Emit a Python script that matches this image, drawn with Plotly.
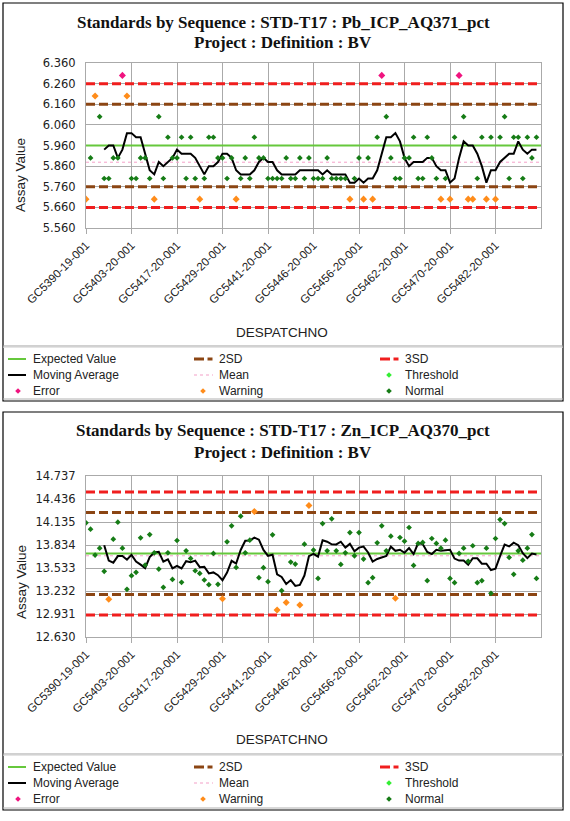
import plotly.graph_objects as go

W, H = 570, 821

# ---------------- data ----------------
tick_pos = [0, 10, 20, 30, 40, 50, 60, 70, 80, 90]
tick_labels = ["GC5390-19-001", "GC5403-20-001", "GC5417-20-001", "GC5429-20-001",
               "GC5441-20-001", "GC5446-20-001", "GC5456-20-001", "GC5462-20-001",
               "GC5470-20-001", "GC5482-20-001"]
x_end = 100

# Pb_ICP_AQ371_pct
pb_values = [5.7, 5.9, 6.2, 6.1, 5.8, 5.8, 5.9, 5.9, 6.3, 6.2,
             5.8, 5.8, 5.9, 5.9, 5.8, 5.7, 6.1, 5.8, 6.0, 5.9,
             5.9, 6.0, 5.8, 6.0, 5.8, 5.7, 5.8, 6.0, 6.0, 5.9,
             5.9, 5.8, 5.9, 5.7, 5.8, 5.9, 5.8, 6.0, 5.9, 5.9,
             5.8, 5.8, 5.8, 5.8, 5.9, 5.8, 5.8, 5.9, 5.8, 5.9,
             5.8, 5.8, 5.8, 5.9, 5.8, 5.8, 5.8, 5.8, 5.7, 5.8,
             5.9, 5.7, 5.9, 5.7, 6.0, 6.3, 6.1, 5.9, 5.8, 5.8,
             5.9, 5.9, 6.0, 5.8, 5.8, 6.0, 5.9, 5.8, 5.7, 5.8,
             5.7, 6.0, 6.3, 6.1, 5.7, 5.7, 5.8, 6.0, 5.7, 6.0,
             5.7, 6.0, 6.1, 5.8, 6.0, 6.0, 5.8, 6.0, 5.9, 6.0]
pb_ma_start = 4
pb_ma = [5.94, 5.96, 5.96, 5.90, 5.94, 6.02, 6.02, 6.00, 6.00, 5.92,
         5.84, 5.82, 5.88, 5.86, 5.88, 5.90, 5.94, 5.92, 5.92, 5.92,
         5.90, 5.86, 5.82, 5.86, 5.86, 5.88, 5.92, 5.92, 5.90, 5.84,
         5.82, 5.82, 5.82, 5.84, 5.88, 5.90, 5.88, 5.88, 5.84, 5.82,
         5.82, 5.82, 5.82, 5.84, 5.84, 5.84, 5.84, 5.84, 5.82, 5.84,
         5.82, 5.82, 5.82, 5.82, 5.78, 5.78, 5.80, 5.78, 5.80, 5.80,
         5.84, 5.92, 6.00, 6.00, 6.02, 5.98, 5.90, 5.86, 5.88, 5.88,
         5.88, 5.90, 5.90, 5.86, 5.84, 5.84, 5.78, 5.80, 5.90, 5.98,
         5.96, 5.96, 5.92, 5.86, 5.78, 5.84, 5.84, 5.88, 5.90, 5.92,
         5.92, 5.98, 5.94, 5.92, 5.94, 5.94]
pb_expected = 5.96
pb_mean = 5.879
pb_2sd = [5.76, 6.16]
pb_3sd = [5.66, 6.26]
pb_range = [5.56, 6.36]
pb_yticks = [5.56, 5.66, 5.76, 5.86, 5.96, 6.06, 6.16, 6.26, 6.36]

# Zn_ICP_AQ370_pct
zn_values = [14.124, 14.041, 13.702, 13.793, 13.489, 13.123, 13.910, 14.132, 13.793, 13.254,
             13.432, 13.476, 13.928, 13.571, 13.971, 13.732, 13.519, 13.280, 13.732, 13.384,
             13.893, 13.345, 13.758, 13.658, 13.497, 13.462, 13.376, 13.315, 13.723, 13.319,
             13.132, 13.876, 14.085, 13.541, 14.211, 13.732, 13.897, 14.272, 13.406, 13.537,
             13.354, 13.967, 12.984, 13.236, 13.080, 13.610, 13.584, 13.050, 13.845, 14.350,
             13.767, 13.397, 14.115, 13.758, 14.176, 13.758, 13.580, 13.732, 13.997, 13.693,
             13.997, 13.650, 13.341, 13.406, 13.863, 14.085, 13.758, 13.950, 13.136, 13.932,
             13.884, 14.063, 13.567, 13.854, 13.867, 13.367, 13.919, 13.854, 13.793, 13.897,
             13.397, 13.341, 13.723, 13.793, 13.620, 13.824, 13.341, 13.367, 13.793, 13.201,
             13.919, 14.167, 14.115, 13.671, 13.450, 13.758, 13.636, 13.793, 13.971, 13.397]
zn_ma_start = 4
zn_ma = [13.830, 13.630, 13.603, 13.689, 13.689, 13.642, 13.704, 13.617, 13.577, 13.532,
         13.676, 13.736, 13.744, 13.615, 13.647, 13.529, 13.562, 13.527, 13.622, 13.608,
         13.630, 13.544, 13.550, 13.462, 13.475, 13.439, 13.373, 13.473, 13.627, 13.591,
         13.769, 13.889, 13.893, 13.931, 13.904, 13.769, 13.693, 13.707, 13.450, 13.416,
         13.324, 13.375, 13.299, 13.312, 13.434, 13.688, 13.719, 13.682, 13.895, 13.877,
         13.843, 13.841, 13.877, 13.801, 13.849, 13.752, 13.800, 13.814, 13.736, 13.617,
         13.651, 13.669, 13.691, 13.812, 13.758, 13.772, 13.732, 13.793, 13.716, 13.860,
         13.847, 13.744, 13.715, 13.772, 13.760, 13.766, 13.772, 13.656, 13.630, 13.630,
         13.575, 13.660, 13.660, 13.589, 13.589, 13.505, 13.524, 13.689, 13.839, 13.815,
         13.864, 13.832, 13.726, 13.662, 13.722, 13.711]
zn_expected = 13.723
zn_mean = 13.693
zn_2sd = [13.187, 14.259]
zn_3sd = [12.919, 14.527]
zn_range = [12.630, 14.737]
zn_yticks = [12.630, 12.931, 13.232, 13.533, 13.834, 14.135, 14.436, 14.737]

titles = [("Standards by Sequence : STD-T17 : Pb_ICP_AQ371_pct", "Project : Definition : BV"),
          ("Standards by Sequence : STD-T17 : Zn_ICP_AQ370_pct", "Project : Definition : BV")]

# ---------------- styles ----------------
C_EXP = "#66C83C"
C_2SD = "#8B4513"
C_3SD = "#F01E1E"
C_MA = "#000000"
C_MEAN = "#F4A0C8"
C_ERR = "#F0147F"
C_WARN = "#FF8C1A"
C_THR = "#33EE33"
C_NORM = "#167C16"
GRID = "#AAAAAA"
SANS = "Liberation Sans"
SERIF = "Liberation Serif"


def px(x):
    return x / W


def py(y):
    return 1 - y / H


fig = go.Figure()


def add_panel(xa, ya, values, ma, ma_start, expected, mean, sd2, sd3):
    xr = [0, x_end]
    for lvl in sd3:
        fig.add_trace(go.Scatter(x=xr, y=[lvl, lvl], mode="lines", xaxis=xa, yaxis=ya,
                                 line=dict(color=C_3SD, width=3, dash="9px,4px"), hoverinfo="skip"))
    for lvl in sd2:
        fig.add_trace(go.Scatter(x=xr, y=[lvl, lvl], mode="lines", xaxis=xa, yaxis=ya,
                                 line=dict(color=C_2SD, width=3, dash="9px,4px"), hoverinfo="skip"))
    fig.add_trace(go.Scatter(x=xr, y=[expected, expected], mode="lines", xaxis=xa, yaxis=ya,
                             line=dict(color=C_EXP, width=2)))
    fig.add_trace(go.Scatter(x=xr, y=[mean, mean], mode="lines", xaxis=xa, yaxis=ya,
                             line=dict(color=C_MEAN, width=1, dash="3px,3px")))
    fig.add_trace(go.Scatter(x=list(range(ma_start, ma_start + len(ma))), y=ma, mode="lines",
                             xaxis=xa, yaxis=ya, line=dict(color=C_MA, width=2)))
    groups = {"N": ([], []), "W": ([], []), "E": ([], [])}
    for i, v in enumerate(values):
        if v > sd3[1] or v < sd3[0]:
            k = "E"
        elif v > sd2[1] or v < sd2[0]:
            k = "W"
        else:
            k = "N"
        groups[k][0].append(i)
        groups[k][1].append(v)
    for k, col, size in [("N", C_NORM, 4.4), ("W", C_WARN, 5.4), ("E", C_ERR, 5.4)]:
        fig.add_trace(go.Scatter(x=groups[k][0], y=groups[k][1], mode="markers", xaxis=xa, yaxis=ya,
                                 marker=dict(symbol="diamond", color=col, size=size,
                                             line=dict(width=0))))


add_panel("x", "y", pb_values, pb_ma, pb_ma_start, pb_expected, pb_mean, pb_2sd, pb_3sd)
add_panel("x2", "y2", zn_values, zn_ma, zn_ma_start, zn_expected, zn_mean, zn_2sd, zn_3sd)

xdom = [px(86), px(541)]


def xaxis_cfg(anchor):
    return dict(domain=xdom, range=[0, x_end], anchor=anchor, tickmode="array",
                tickvals=tick_pos, ticktext=tick_labels, tickangle=-45, automargin=False,
                showgrid=True, gridcolor=GRID, gridwidth=1, zeroline=False,
                showline=True, linecolor=GRID, linewidth=1, mirror=True,
                ticks="outside", ticklen=5, tickcolor=GRID,
                tickfont=dict(family=SANS, size=11.5, color="#222222"))


def yaxis_cfg(anchor, dom, rng, ticks):
    return dict(domain=dom, range=rng, anchor=anchor, tickmode="array", automargin=False,
                tickvals=ticks, ticktext=["%.3f" % t for t in ticks],
                showgrid=True, gridcolor=GRID, gridwidth=1, zeroline=False,
                showline=True, linecolor=GRID, linewidth=1, mirror=True,
                ticks="", ticklabelstandoff=7,
                tickfont=dict(family="DejaVu Sans", size=11.5, color="#222222"))


shapes = []
annotations = []


def line(x0, y0, x1, y1, color, width, dash=None):
    d = dict(type="line", xref="paper", yref="paper", x0=px(x0), y0=py(y0), x1=px(x1), y1=py(y1),
             line=dict(color=color, width=width))
    if dash:
        d["line"]["dash"] = dash
    shapes.append(d)


def diamond(cx, cy, r, color):
    path = "M %f %f L %f %f L %f %f L %f %f Z" % (px(cx - r), py(cy), px(cx), py(cy - r),
                                                  px(cx + r), py(cy), px(cx), py(cy + r))
    shapes.append(dict(type="path", xref="paper", yref="paper", path=path,
                       fillcolor=color, line=dict(color=color, width=0)))


def text(x, y, s, size=12, family=SANS, anchor="left", angle=0, color="#222222"):
    annotations.append(dict(x=px(x), y=py(y), xref="paper", yref="paper", text=s,
                            showarrow=False, xanchor=anchor, yanchor="middle", textangle=angle,
                            font=dict(family=family, size=size, color=color)))


def panel_frame(top, bottom, sep, rows, title_y, xtitle_y, ytitle_y, title):
    shapes.append(dict(type="rect", xref="paper", yref="paper", x0=px(3), y0=py(top),
                       x1=px(563), y1=py(bottom), line=dict(color="#000000", width=1.2)))
    line(3, bottom - 2, 563, bottom - 2, "#B0B0B0", 1)
    line(3, sep, 563, sep, "#A0A0A0", 1)
    line(3, sep + 1.2, 563, sep + 1.2, "#D8D8D8", 1)
    text(283, title_y[0], "<b>%s</b>" % title[0], size=17, family=SERIF, anchor="center", color="#111111")
    text(283, title_y[1], "<b>%s</b>" % title[1], size=17, family=SERIF, anchor="center", color="#111111")
    text(282, xtitle_y, "DESPATCHNO", size=13.5, anchor="center")
    text(21, ytitle_y, "Assay Value", size=13.5, anchor="center", angle=-90)
    r1, r2, r3 = rows
    # column 1
    line(8, r1, 26, r1, C_EXP, 2)
    text(31, r1, "Expected Value")
    line(8, r2, 26, r2, C_MA, 2)
    text(31, r2, "Moving Average")
    diamond(18, r3, 2.8, C_ERR)
    text(31, r3, "Error")
    # column 2
    line(194, r1, 204, r1, C_2SD, 3)
    line(207.5, r1, 212.5, r1, C_2SD, 3)
    text(217, r1, "2SD")
    line(194, r2, 213, r2, C_MEAN, 1.2, "3px,3px")
    text(217, r2, "Mean")
    diamond(203, r3, 2.8, C_WARN)
    text(217, r3, "Warning")
    # column 3
    line(380, r1, 390, r1, C_3SD, 3)
    line(393.5, r1, 398.5, r1, C_3SD, 3)
    text(403, r1, "3SD")
    diamond(389, r2, 2.8, C_THR)
    text(403, r2, "Threshold")
    diamond(389, r3, 2.8, C_NORM)
    text(403, r3, "Normal")


panel_frame(3, 401, 346, (359, 375, 391), (22, 43), 332, 175, titles[0])
panel_frame(412, 810, 754, (767, 783, 799), (431, 452), 739, 582, titles[1])

fig.update_layout(
    width=W, height=H, margin=dict(l=0, r=0, t=0, b=0, pad=0, autoexpand=False),
    paper_bgcolor="white", plot_bgcolor="white", showlegend=False,
    xaxis=xaxis_cfg("y"),
    yaxis=yaxis_cfg("x", [py(228), py(63)], pb_range, pb_yticks),
    xaxis2=xaxis_cfg("y2"),
    yaxis2=yaxis_cfg("x2", [py(637), py(476)], zn_range, zn_yticks),
    shapes=shapes, annotations=annotations,
)

fig.write_html("out.html", config={"displayModeBar": False},
               post_script="document.body.style.margin='0';document.body.style.overflow='hidden';")
